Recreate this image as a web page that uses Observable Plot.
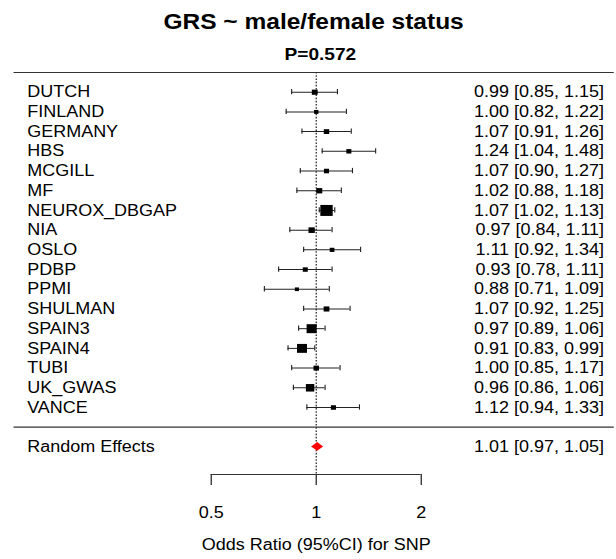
<!DOCTYPE html>
<html>
<head>
<meta charset="utf-8">
<script src="https://cdn.jsdelivr.net/npm/d3@7"></script>
<script src="https://cdn.jsdelivr.net/npm/@observablehq/plot@0.6"></script>
<style>
  html, body { margin: 0; padding: 0; background: #fff; }
  #wrap {
    width: 548px;
    transform: scaleX(1.12409);
    transform-origin: 0 0;
    font-family: "Liberation Sans", Arial, Helvetica, sans-serif;
    color: #000;
  }
  #title {
    box-sizing: border-box; height: 44px; line-height: 44px;
    font-size: 21.8px; font-weight: bold; text-align: center; padding-left: 10px;
  }
  #subtitle {
    box-sizing: border-box; height: 22px; line-height: 22px;
    font-size: 17px; font-weight: bold; text-align: center; padding-left: 22px;
  }
  svg { display: block; }
</style>
</head>
<body>
<div id="wrap">
  <div id="title"></div>
  <div id="subtitle"></div>
  <div id="chart"></div>
</div>
<script>
// ---- data ----
const titleText = "GRS ~ male/female status";
const subtitleText = "P=0.572";
const axisLabel = "Odds Ratio (95%CI) for SNP";
const studies = ["DUTCH", "FINLAND", "GERMANY", "HBS", "MCGILL", "MF", "NEUROX_DBGAP", "NIA", "OSLO",
                 "PDBP", "PPMI", "SHULMAN", "SPAIN3", "SPAIN4", "TUBI", "UK_GWAS", "VANCE"];
const oddsRatio = [0.99, 1.00, 1.07, 1.24, 1.07, 1.02, 1.07, 0.97, 1.11, 0.93, 0.88, 1.07, 0.97, 0.91, 1.00, 0.96, 1.12];
const lower     = [0.85, 0.82, 0.91, 1.04, 0.90, 0.88, 1.02, 0.84, 0.92, 0.78, 0.71, 0.92, 0.89, 0.83, 0.85, 0.86, 0.94];
const upper     = [1.15, 1.22, 1.26, 1.48, 1.27, 1.18, 1.13, 1.11, 1.34, 1.11, 1.09, 1.25, 1.06, 0.99, 1.17, 1.06, 1.33];
const summaryName = "Random Effects";
const summaryOR = 1.01;
const summaryLower = 0.97;
const summaryUpper = 1.05;
const tickValues = [0.5, 1, 2];

document.getElementById("title").textContent = titleText;
document.getElementById("subtitle").textContent = subtitleText;

// ---- derived table ----
const fmt = d3.format(".2f");
const rows = studies.map((s, i) => ({
  name: s, or: oddsRatio[i], lo: lower[i], hi: upper[i], row: i,
  info: 1 / (Math.log(upper[i]) - Math.log(lower[i])),
  label: `${fmt(oddsRatio[i])} [${fmt(lower[i])}, ${fmt(upper[i])}]`
}));
const rowTop = -1;
const rowSep = studies.length;
const rowRE = studies.length + 1;
const rowAxis = studies.length + 2.4;
const summary = [{name: summaryName, row: rowRE,
  label: `${fmt(summaryOR)} [${fmt(summaryLower)}, ${fmt(summaryUpper)}]`}];
const diamondHalf = 0.22;
const diamond = [
  {x: summaryLower, y1: rowRE, y2: rowRE},
  {x: summaryOR, y1: rowRE - diamondHalf, y2: rowRE + diamondHalf},
  {x: summaryUpper, y1: rowRE, y2: rowRE}
];
const lineColor = "#333";

const chart = Plot.plot({
  width: 548,
  height: 493,
  marginTop: 6,
  marginBottom: 85,
  marginLeft: 12,
  marginRight: 2,
  style: {fontFamily: '"Liberation Sans", Arial, Helvetica, sans-serif', fontSize: "16px", color: "#000", background: "#fff", overflow: "visible"},
  x: {type: "log", domain: [0.5, 2], range: [187.44, 374.26], axis: null},
  y: {type: "linear", domain: [rowTop, rowAxis], range: [6, 408], axis: null},
  r: {type: "linear", domain: [0, 7], range: [0, 6.2], clamp: true},
  marks: [
    Plot.ruleY([rowTop, rowSep], {stroke: lineColor, strokeWidth: 1.2}),
    Plot.ruleX([1], {stroke: lineColor, strokeWidth: 1.2, strokeDasharray: "1.6,1.6"}),
    Plot.ruleY(rows, {y: "row", x1: "lo", x2: "hi", stroke: "#222", strokeWidth: 1}),
    Plot.ruleX(rows, {x: "lo", y1: "row", y2: "row", insetTop: -2.65, insetBottom: -2.65, stroke: "#222", strokeWidth: 1}),
    Plot.ruleX(rows, {x: "hi", y1: "row", y2: "row", insetTop: -2.65, insetBottom: -2.65, stroke: "#222", strokeWidth: 1}),
    Plot.dot(rows, {x: "or", y: "row", r: "info", symbol: "square", fill: "#000", stroke: null}),
    Plot.areaY(diamond, {x: "x", y1: "y1", y2: "y2", fill: "#ff0000"}),
    Plot.text(rows.concat(summary), {y: "row", text: "name", frameAnchor: "left", textAnchor: "start", dx: 11.7, fontSize: 16, fill: "#000"}),
    Plot.text(rows.concat(summary), {y: "row", text: "label", frameAnchor: "right", textAnchor: "end", dx: -9.1, fontSize: 16, fill: "#000"}),
    Plot.ruleY([rowAxis], {x1: tickValues[0], x2: tickValues[tickValues.length - 1], stroke: lineColor, strokeWidth: 1.2}),
    Plot.axisX({ticks: tickValues, tickSize: 11, tickPadding: 21.4, tickFormat: d => String(d), fontSize: 16, label: null, stroke: lineColor, strokeWidth: 1.2, fill: "#000"}),
    Plot.text([axisLabel], {x: () => 1, text: d => d, frameAnchor: "bottom", dy: 75, fontSize: 16, fill: "#000"})
  ]
});
document.getElementById("chart").appendChild(chart);
</script>
</body>
</html>
